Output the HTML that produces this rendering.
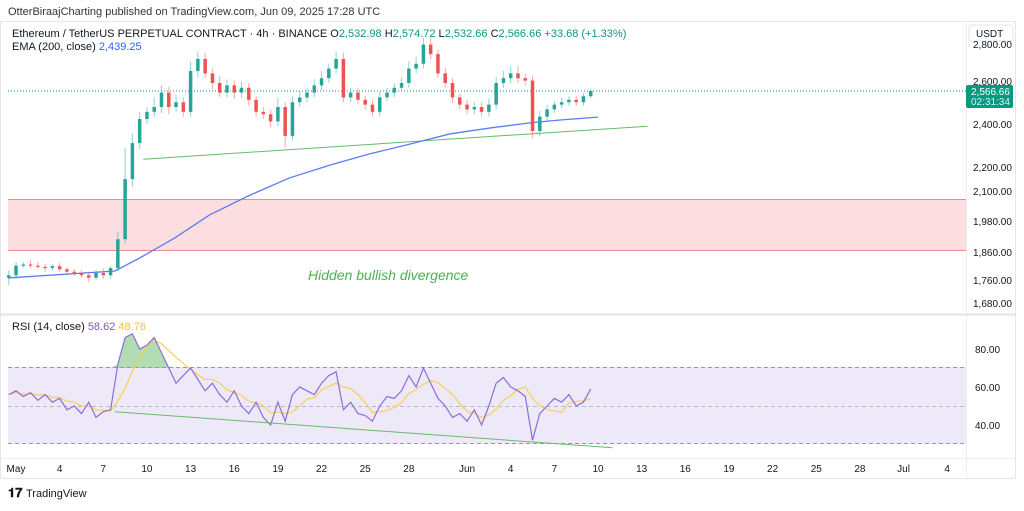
<!DOCTYPE html>
<html><head><meta charset="utf-8">
<style>
body{margin:0;width:1024px;height:506px;background:#fff;font-family:"Liberation Sans",sans-serif;overflow:hidden}
svg text{font-family:"Liberation Sans",sans-serif}
</style></head>
<body>
<svg id="c" width="1024" height="506" viewBox="0 0 1024 506" xmlns="http://www.w3.org/2000/svg">
<text x="8" y="15" font-size="11" fill="#333">OtterBiraajCharting published on TradingView.com, Jun 09, 2025 17:28 UTC</text>
<rect x="0.5" y="21.5" width="1015" height="457" fill="none" stroke="#e6e6e6"/>
<line x1="966.5" y1="22" x2="966.5" y2="478" stroke="#eee"/>
<line x1="0" y1="314.5" x2="1016" y2="314.5" stroke="#e0e3eb" stroke-width="2"/>
<line x1="0" y1="458.5" x2="1016" y2="458.5" stroke="#eee"/>
<rect x="8" y="199" width="958" height="52" fill="#fcdde0"/>
<line x1="8" y1="199.5" x2="966" y2="199.5" stroke="#f7878f"/>
<line x1="8" y1="250.5" x2="966" y2="250.5" stroke="#f7878f"/>
<rect x="8" y="367" width="958" height="77" fill="#ede9f8"/>
<line x1="8" y1="367.5" x2="966" y2="367.5" stroke="#9598a1" stroke-dasharray="4,3"/>
<line x1="8" y1="406.5" x2="966" y2="406.5" stroke="#9598a1" stroke-dasharray="4,3" stroke-opacity=".6"/>
<line x1="8" y1="443.5" x2="966" y2="443.5" stroke="#9598a1" stroke-dasharray="4,3"/>
<g id="g"></g>
<text x="308" y="280" font-size="14" font-style="italic" fill="#4caf50">Hidden bullish divergence</text>
<text x="12" y="37" font-size="11" fill="#131722">Ethereum / TetherUS PERPETUAL CONTRACT · 4h · BINANCE  O<tspan fill="#089981">2,532.98</tspan>  H<tspan fill="#089981">2,574.72</tspan>  L<tspan fill="#089981">2,532.66</tspan>  C<tspan fill="#089981">2,566.66</tspan>  <tspan fill="#089981">+33.68 (+1.33%)</tspan></text>
<text x="12" y="50" font-size="11" fill="#131722">EMA (200, close)  <tspan fill="#2962ff">2,439.25</tspan></text>
<text x="12" y="330" font-size="11" fill="#131722">RSI (14, close)  <tspan fill="#7e57c2">58.62</tspan>  <tspan fill="#f5c23b">48.76</tspan></text>
<rect x="969" y="25" width="44" height="16" rx="3" fill="#fff" stroke="#e6e6e6"/>
<text x="976" y="37" font-size="10" fill="#131722">USDT</text>
<g id="pax" font-size="10" fill="#131722"></g>
<rect x="966" y="85" width="47" height="23" rx="2" fill="#089981"/>
<text x="971" y="95" font-size="10" fill="#fff">2,566.66</text>
<text x="971" y="105" font-size="10" fill="#d8f1ec">02:31:34</text>
<g id="tax" font-size="10" fill="#131722"></g>
<text x="8" y="497" font-size="13" font-weight="bold" fill="#131722">𝟏𝟕</text>
<text x="26" y="497" font-size="11" fill="#131722">TradingView</text>
</svg>
<script>
// 12h candles starting Apr 30 12:00
const closes=[1800,1840,1845,1840,1835,1830,1838,1825,1815,1810,1800,1790,1810,1800,1830,1950,2200,2350,2450,2480,2500,2560,2500,2520,2480,2650,2700,2640,2600,2560,2590,2560,2580,2530,2480,2470,2440,2500,2380,2520,2540,2560,2590,2620,2660,2700,2540,2560,2530,2510,2480,2540,2560,2580,2600,2660,2680,2760,2720,2640,2600,2540,2510,2490,2500,2480,2510,2600,2620,2640,2620,2610,2400,2460,2490,2510,2520,2530,2520,2545,2566.66];
const wickUp=[20,15,10,20,15,12,10,15,10,12,10,15,12,20,10,30,130,40,30,20,40,30,25,30,20,40,30,25,20,30,25,20,25,20,15,20,20,40,20,25,25,20,25,30,20,30,25,20,20,15,20,25,20,20,25,30,30,30,30,20,25,20,15,20,20,20,25,25,30,30,30,20,20,25,20,15,20,15,15,15,10];
const wickDn=[30,15,10,12,10,15,10,10,15,12,10,20,10,15,15,10,20,30,25,20,20,25,30,20,20,20,25,20,25,20,20,25,20,25,20,20,25,20,50,20,20,20,20,20,20,20,20,20,20,20,20,20,15,20,15,20,20,20,20,20,20,25,20,20,20,20,20,20,20,20,20,20,30,20,15,15,15,15,15,15,10];
const emaDays=[-0.55,6.8,8.5,10.9,13.3,16.1,18.8,21.6,24.3,27.1,29.8,32.6,35.3,37.4,40];
const emaVals=[1789,1818,1872,1955,2051,2134,2205,2259,2305,2346,2388,2413,2434,2446,2458];
const rsi=[56,58,55,57,53,56,52,54,48,50,46,52,44,47,48,72,86,88,80,82,86,78,70,62,66,70,64,58,62,56,52,58,50,46,52,44,40,52,42,56,60,58,56,62,66,68,48,52,46,45,42,50,55,54,58,66,60,70,62,54,50,44,46,42,48,40,50,62,65,60,58,55,32,46,50,54,52,56,50,52,59];
const trendPriceDays=[8.75,43.4], trendPriceVals=[2283,2420];
const trendRsiDays=[6.8,41], trendRsiVals=[47,28];
const priceTicks=[2800,2600,2400,2200,2100,1980,1860,1760,1680];
const priceTickY=[48,85,128,171,195,225,256,284,307];
const timeLabels=["May","4","7","10","13","16","19","22","25","28","Jun","4","7","10","13","16","19","22","25","28","Jul","4"];
const timeDays=[0,3,6,9,12,15,18,21,24,27,31,34,37,40,43,46,49,52,55,58,61,64];

const X=d=>16+d*14.55;
const Y=p=>91+(2566.66-p)*0.2404;
const RY=v=>387-(v-60)*1.9;
const NS='http://www.w3.org/2000/svg';
const g=document.getElementById('g');
function mk(tag,at,parent){const e=document.createElementNS(NS,tag);for(const k in at)e.setAttribute(k,at[k]);(parent||g).appendChild(e);return e;}

let e=mk('line',{x1:X(trendPriceDays[0]),y1:Y(trendPriceVals[0]),x2:X(trendPriceDays[1]),y2:Y(trendPriceVals[1]),stroke:'#66bb6a','stroke-width':1});


e=mk('polyline',{points:emaDays.map((d,i)=>X(d)+','+Y(emaVals[i])).join(' '),fill:'none',stroke:'#5b7cf6','stroke-width':1.3});


e=mk('line',{x1:8,y1:Y(2566.66),x2:966,y2:Y(2566.66),stroke:'#089981','stroke-dasharray':'1,2'});


closes.forEach((c,i)=>{
  const o=i?closes[i-1]:c-10;
  const d=-0.5+i*0.5, x=X(d);
  const up=c>=o, col=up?'#26a69a':'#ef5350';
  const hi=Math.max(o,c)+wickUp[i], lo=Math.min(o,c)-wickDn[i];
  const w=mk('line',{x1:x,y1:Y(hi),x2:x,y2:Y(lo),stroke:col,'stroke-opacity':.5});
  
  
  const b=mk('rect',{x:x-1.75,y:Y(Math.max(o,c)),width:3.5,height:Math.max(1,Math.abs(Y(o)-Y(c))),fill:col});
  
  
});
let pts=[];rsi.forEach((v,i)=>{pts.push([X(-0.5+i*0.5),RY(Math.max(v,70))]);});
e=mk('polygon',{points:pts.map(p=>p.join(',')).join(' ')+' '+X(-0.5+80*0.5)+','+RY(70)+' '+X(-0.5)+','+RY(70),fill:'#66bb6a','fill-opacity':.5});


const ma=rsi.map((v,i)=>{const s=rsi.slice(Math.max(0,i-4),i+1);return s.reduce((a,b)=>a+b,0)/s.length;});
e=mk('polyline',{points:ma.map((v,i)=>X(-0.5+i*0.5)+','+RY(v)).join(' '),fill:'none',stroke:'#f7d154','stroke-width':1.2});


e=mk('polyline',{points:rsi.map((v,i)=>X(-0.5+i*0.5)+','+RY(v)).join(' '),fill:'none',stroke:'#8a6fd6','stroke-width':1.2});


e=mk('line',{x1:X(trendRsiDays[0]),y1:RY(trendRsiVals[0]),x2:X(trendRsiDays[1]),y2:RY(trendRsiVals[1]),stroke:'#66bb6a','stroke-width':1});


const pax=document.getElementById('pax');
priceTicks.forEach((p,i)=>{const t=mk('text',{x:973,y:priceTickY[i]},pax);t.textContent=p.toLocaleString('en-US',{minimumFractionDigits:2});

});
['80.00','60.00','40.00'].forEach((s,i)=>{const t=mk('text',{x:975,y:RY([80,60,40][i])+4},pax);t.textContent=s;

});
const tax=document.getElementById('tax');
timeLabels.forEach((s,i)=>{const t=mk('text',{x:X(timeDays[i]),y:472,'text-anchor':'middle'},tax);t.textContent=s;

});
</script>
</body></html>
